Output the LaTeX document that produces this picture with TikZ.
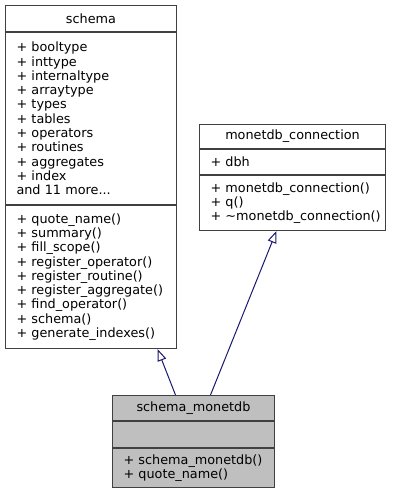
\documentclass[tikz,border=0pt]{standalone}
\usepackage{fontspec}
\setmainfont{DejaVu Sans}
\usetikzlibrary{arrows.meta}
\definecolor{edgeblue}{HTML}{191970}
\definecolor{boxline}{HTML}{404040}
\definecolor{curfill}{HTML}{BFBFBF}

\begin{document}
\begin{tikzpicture}[x=1pt, y=-1pt,
    every node/.style={font=\fontsize{12.8}{14.3}\selectfont},
    part/.style={draw=boxline, line width=1pt, anchor=north west, inner ysep=0pt},
    classname/.style={part, align=center, inner xsep=0pt},
    members/.style={part, align=left, inner xsep=11pt},
    inherit/.style={draw=edgeblue, line width=1pt, -{Triangle[open, length=12pt, width=9pt, fill=white]}}]
    \useasboundingbox (0,0) rectangle (400,492);

    % base class schema
    \node[classname, text width=171pt, minimum height=26pt] (sch) at (5,5) {schema};
    \node[members, text width=149pt, minimum height=172pt] (schattr) at (sch.south west)
        {+ booltype\\+ inttype\\+ internaltype\\+ arraytype\\+ types\\+ tables\\+ operators\\+ routines\\+ aggregates\\+ index\\and 11 more...};
    \node[members, text width=149pt, minimum height=143pt] (schmeth) at (schattr.south west)
        {+ quote\_name()\\+ summary()\\+ fill\_scope()\\+ register\_operator()\\+ register\_routine()\\+ register\_aggregate()\\+ find\_operator()\\+ schema()\\+ generate\_indexes()};

    % base class monetdb_connection
    \node[classname, text width=186pt, minimum height=24pt] (mc) at (199,124) {monetdb\_connection};
    \node[members, text width=164pt, minimum height=25pt] (mcattr) at (mc.south west) {+ dbh};
    \node[members, text width=164pt, minimum height=55pt] (mcmeth) at (mcattr.south west)
        {+ monetdb\_connection()\\+ q()\\\mbox{+ \textasciitilde monetdb\_connection()}};

    % derived class schema_monetdb
    \node[classname, fill=curfill, text width=162pt, minimum height=25pt] (sm) at (112,395) {schema\_monetdb};
    \node[members, fill=curfill, text width=140pt, minimum height=26pt] (smattr) at (sm.south west) {};
    \node[members, fill=curfill, text width=140pt, minimum height=39pt] (smmeth) at (smattr.south west)
        {+ schema\_monetdb()\\+ quote\_name()};

    \draw[inherit] ([xshift=-18pt]sm.north) -- ([xshift=66.5pt]schmeth.south);
    \draw[inherit] ([xshift=17pt]sm.north) -- ([xshift=-16pt]mcmeth.south);
\end{tikzpicture}
\end{document}
